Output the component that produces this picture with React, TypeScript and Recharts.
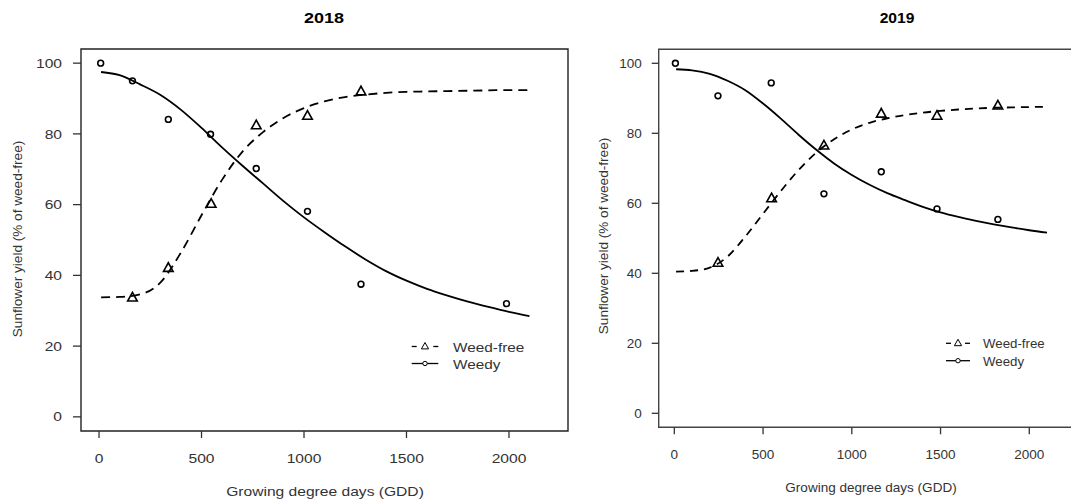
import React from "react";
import {
  ComposedChart,
  Line,
  Scatter,
  XAxis,
  YAxis,
  ReferenceArea,
} from "recharts";

/** Fitted curves are read at these GDD values. */
const GDD_GRID = [
  10, 100, 200, 300, 400, 500, 600, 700, 800, 900, 1000, 1100, 1200, 1300,
  1400, 1500, 1600, 1700, 1800, 1900, 2000, 2100,
];

const FIT_2018_WEEDFREE = [
  33.8, 33.9, 34.6, 38.0, 46.5, 57.0, 67.0, 75.0, 80.5, 84.5, 87.3, 89.2,
  90.4, 91.1, 91.6, 91.9, 92.0, 92.1, 92.2, 92.3, 92.4, 92.4,
];
const FIT_2018_WEEDY = [
  97.5, 96.6, 94.0, 91.0, 86.8, 81.7, 76.2, 71.0, 66.0, 61.0, 56.4, 52.2,
  48.2, 44.5, 41.2, 38.5, 36.2, 34.3, 32.6, 31.1, 29.7, 28.5,
];
const FIT_2019_WEEDFREE = [
  40.5, 40.7, 41.6, 44.8, 50.5, 57.0, 63.5, 69.5, 74.5, 78.3, 81.1, 83.0,
  84.3, 85.2, 85.9, 86.4, 86.8, 87.1, 87.3, 87.4, 87.5, 87.6,
];
const FIT_2019_WEEDY = [
  98.3, 98.0, 97.0, 95.0, 92.3, 88.5, 84.2, 79.6, 75.3, 71.4, 68.1, 65.3,
  62.9, 60.9, 59.0, 57.4, 56.1, 55.0, 54.0, 53.1, 52.3, 51.6,
];

/** Observed points. */
const OBS_2018_WEEDFREE_GDD = [163, 338, 547, 767, 1017, 1278];
const OBS_2018_WEEDFREE = [33.7, 42.1, 60.2, 82.4, 85.1, 92.0];
const OBS_2018_WEEDY_GDD = [8, 163, 338, 544, 767, 1017, 1278, 1988];
const OBS_2018_WEEDY = [100, 95.0, 84.1, 79.9, 70.2, 58.1, 37.5, 32.0];

const OBS_2019_WEEDFREE_GDD = [246, 548, 843, 1166, 1480, 1823];
const OBS_2019_WEEDFREE = [43.0, 61.4, 76.5, 85.6, 85.0, 87.9];
const OBS_2019_WEEDY_GDD = [6, 246, 546, 843, 1166, 1480, 1823];
const OBS_2019_WEEDY = [100, 90.7, 94.4, 62.7, 69.0, 58.4, 55.4];

const X_TICKS = [0, 500, 1000, 1500, 2000];
const Y_TICKS = [0, 20, 40, 60, 80, 100];
const X_DOMAIN: [number, number] = [-88, 2288];
const Y_DOMAIN: [number, number] = [-4, 104];

const FONT = '"Liberation Sans", Arial, Helvetica, sans-serif';
const TEXT_COLOR = "#333";

const zip = (xs: number[], ys: number[]) =>
  xs.map((x, i) => ({ x, y: ys[i] }));

function Triangle(props: any) {
  const { cx, cy } = props;
  if (cx == null || cy == null) return null;
  return (
    <polygon
      points={`${cx},${cy - 5.2} ${cx - 4.8},${cy + 3.4} ${cx + 4.8},${cy + 3.4}`}
      fill="none"
      stroke="#000"
      strokeWidth={1.6}
    />
  );
}

function Circle(props: any) {
  const { cx, cy } = props;
  if (cx == null || cy == null) return null;
  return <circle cx={cx} cy={cy} r={2.9} fill="none" stroke="#000" strokeWidth={1.6} />;
}

function makeTick(axis: "x" | "y", sx: number) {
  return function Tick(props: any) {
    const { x, y, payload } = props;
    return (
      <text
        transform={`translate(${x},${y}) scale(${sx},1)`}
        textAnchor={axis === "x" ? "middle" : "end"}
        dy={axis === "x" ? "0.71em" : "0.355em"}
        fill={TEXT_COLOR}
        fontSize={13}
        fontFamily={FONT}
      >
        {payload.value}
      </text>
    );
  };
}

interface PanelProps {
  left: number;
  width: number;
  margin: { top: number; right: number; bottom: number; left: number };
  sx: number;
  dash: string;
  boxColor: string;
  yTick: { size: number; margin: number };
  xTick: { size: number; margin: number };
  weedFreeFit: number[];
  weedyFit: number[];
  weedFreeObs: { x: number; y: number }[];
  weedyObs: { x: number; y: number }[];
}

function Panel(p: PanelProps) {
  return (
    <div style={{ position: "absolute", left: p.left, top: 0 }}>
      <ComposedChart width={p.width} height={503} margin={p.margin}>
        <XAxis
          type="number"
          dataKey="x"
          domain={X_DOMAIN}
          ticks={X_TICKS}
          allowDataOverflow
          axisLine={false}
          tickLine={{ stroke: "#333", strokeWidth: 1.3 }}
          tickSize={p.xTick.size}
          tickMargin={p.xTick.margin}
          tick={makeTick("x", p.sx)}
          height={40}
          interval={0}
        />
        <YAxis
          type="number"
          dataKey="y"
          domain={Y_DOMAIN}
          ticks={Y_TICKS}
          allowDataOverflow
          axisLine={false}
          tickLine={{ stroke: "#333", strokeWidth: 1.3 }}
          tickSize={p.yTick.size}
          tickMargin={p.yTick.margin}
          tick={makeTick("y", p.sx)}
          width={60}
          interval={0}
        />
        <ReferenceArea
          x1={X_DOMAIN[0]}
          x2={X_DOMAIN[1]}
          y1={Y_DOMAIN[0]}
          y2={Y_DOMAIN[1]}
          fill="none"
          fillOpacity={0}
          stroke={p.boxColor}
          strokeWidth={1.4}
          ifOverflow="visible"
        />
        <Line
          data={zip(GDD_GRID, p.weedFreeFit)}
          dataKey="y"
          type="monotone"
          stroke="#000"
          strokeWidth={1.8}
          strokeDasharray={p.dash}
          dot={false}
          activeDot={false}
          isAnimationActive={false}
        />
        <Line
          data={zip(GDD_GRID, p.weedyFit)}
          dataKey="y"
          type="monotone"
          stroke="#000"
          strokeWidth={1.8}
          dot={false}
          activeDot={false}
          isAnimationActive={false}
        />
        <Scatter
          data={p.weedFreeObs}
          dataKey="y"
          shape={<Triangle />}
          isAnimationActive={false}
        />
        <Scatter
          data={p.weedyObs}
          dataKey="y"
          shape={<Circle />}
          isAnimationActive={false}
        />
      </ComposedChart>
    </div>
  );
}

function Label({
  text,
  cx,
  cy,
  sx = 1,
  rotate = false,
  bold = false,
  size = 13,
  color = TEXT_COLOR,
}: {
  text: string;
  cx: number;
  cy: number;
  sx?: number;
  rotate?: boolean;
  bold?: boolean;
  size?: number;
  color?: string;
}) {
  return (
    <div
      style={{
        position: "absolute",
        left: cx,
        top: cy,
        transform: `translate(-50%,-50%) ${rotate ? "rotate(-90deg)" : `scaleX(${sx})`}`,
        whiteSpace: "nowrap",
        fontFamily: FONT,
        fontSize: size,
        fontWeight: bold ? "bold" : "normal",
        color,
        lineHeight: 1,
      }}
    >
      {text}
    </div>
  );
}

function LegendBox({ x0, x1, y, textX, sx, gap }: { x0: number; x1: number; y: number; textX: number; sx: number; gap: number }) {
  const mid = (x0 + x1) / 2;
  const rows = [
    { label: "Weed-free", y },
    { label: "Weedy", y: y + gap },
  ];
  return (
    <>
      <svg
        width={1071}
        height={503}
        style={{ position: "absolute", left: 0, top: 0, pointerEvents: "none" }}
      >
        <line x1={x0} x2={x0 + 5} y1={y} y2={y} stroke="#000" strokeWidth={1.3} />
        <line x1={x1 - 5} x2={x1} y1={y} y2={y} stroke="#000" strokeWidth={1.3} />
        <polygon
          points={`${mid},${y - 4} ${mid - 3.6},${y + 2.4} ${mid + 3.6},${y + 2.4}`}
          fill="none"
          stroke="#000"
          strokeWidth={1}
        />
        <line x1={x0} x2={x1} y1={y + gap} y2={y + gap} stroke="#000" strokeWidth={1.3} />
        <circle cx={mid} cy={y + gap} r={2.2} fill="#fff" stroke="#000" strokeWidth={1} />
      </svg>
      {rows.map((r) => (
        <div
          key={r.label}
          style={{
            position: "absolute",
            left: textX,
            top: r.y,
            transform: `translateY(-50%) scaleX(${sx})`,
            transformOrigin: "left center",
            fontFamily: FONT,
            fontSize: 13,
            color: TEXT_COLOR,
            lineHeight: 1,
            whiteSpace: "nowrap",
          }}
        >
          {r.label}
        </div>
      ))}
    </>
  );
}

export default function App() {
  return (
    <div
      style={{
        position: "absolute",
        left: 0,
        top: 0,
        width: 1071,
        height: 503,
        overflow: "hidden",
        background: "#fff",
      }}
    >
      <Panel
        left={0}
        width={600}
        margin={{ top: 49, right: 32, bottom: 32, left: 21 }}
        sx={1.2}
        dash="9 6"
        boxColor="#222"
        yTick={{ size: 8, margin: 11 }}
        xTick={{ size: 7, margin: 16 }}
        weedFreeFit={FIT_2018_WEEDFREE}
        weedyFit={FIT_2018_WEEDY}
        weedFreeObs={zip(OBS_2018_WEEDFREE_GDD, OBS_2018_WEEDFREE)}
        weedyObs={zip(OBS_2018_WEEDY_GDD, OBS_2018_WEEDY)}
      />
      <Panel
        left={590}
        width={520}
        margin={{ top: 49.3, right: 29.6, bottom: 35.7, left: 8.7 }}
        sx={1.04}
        dash="8 6"
        boxColor="#444"
        yTick={{ size: 7, margin: 10 }}
        xTick={{ size: 7, margin: 15 }}
        weedFreeFit={FIT_2019_WEEDFREE}
        weedyFit={FIT_2019_WEEDY}
        weedFreeObs={zip(OBS_2019_WEEDFREE_GDD, OBS_2019_WEEDFREE)}
        weedyObs={zip(OBS_2019_WEEDY_GDD, OBS_2019_WEEDY)}
      />

      <Label text="2018" cx={324} cy={17} sx={1.2} bold size={15} color="#000" />
      <Label text="2019" cx={897} cy={17} sx={1.04} bold size={15} color="#000" />
      <Label text="Growing degree days (GDD)" cx={325} cy={491} sx={1.2} />
      <Label text="Growing degree days (GDD)" cx={871} cy={487} sx={1.04} />
      <Label text="Sunflower yield (% of weed-free)" cx={17.5} cy={239} rotate size={13.6} />
      <Label text="Sunflower yield (% of weed-free)" cx={604} cy={236} rotate size={13.6} />

      <LegendBox x0={411.7} x1={438.3} y={346.5} textX={453} sx={1.18} gap={17} />
      <LegendBox x0={946} x1={970} y={343.3} textX={983.3} sx={1.02} gap={17.4} />
    </div>
  );
}
